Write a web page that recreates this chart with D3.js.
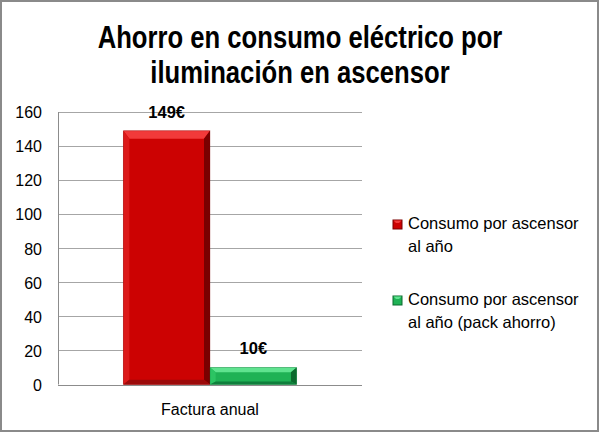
<!DOCTYPE html>
<html><head><meta charset="utf-8">
<script src="https://cdn.jsdelivr.net/npm/d3@7"></script>
<style>
html,body{margin:0;padding:0;background:#fff;}
svg{display:block;}
</style>
</head><body>
<svg id="chart" width="600" height="433"></svg>
<script>
const titleLines = ["Ahorro en consumo eléctrico por", "iluminación en ascensor"];
const categories = ["Factura anual"];
const seriesNames = ["Consumo por ascensor al año", "Consumo por ascensor al año (pack ahorro)"];
const legendLines = [["Consumo por ascensor", "al año"], ["Consumo por ascensor", "al año (pack ahorro)"]];
const seriesValues = [149, 10];
const valueLabels = ["149€", "10€"];
const yTicks = [0, 20, 40, 60, 80, 100, 120, 140, 160];

const palettes = [
  {main:"#cc0202", top:"#f23a3a", left:"#dc1a1a", right:"#7a0000", bottom:"#9c0a0a"},
  {main:"#1fb255", top:"#5fe38f", left:"#2cc463", right:"#0b6a2e", bottom:"#0f7f3c"}
];

const svg = d3.select("#chart");
const FONT = "'Liberation Sans', Arial, sans-serif";

svg.append("rect").attr("x",1).attr("y",1).attr("width",597).attr("height",430)
  .attr("fill","#fff").attr("stroke","#8a8a8a").attr("stroke-width",2);

// title (condensed horizontally to mimic Calibri proportions)
const tY = [48, 83];
const titleG = svg.append("g");
const tTexts = titleLines.map((t,i)=>titleG.append("text").attr("x",0).attr("y",tY[i]).attr("text-anchor","middle")
    .attr("font-family",FONT).attr("font-weight","bold").attr("font-size",31)
    .attr("fill","#000").text(t));
const w1 = tTexts[0].node().getComputedTextLength();
const k = 405 / w1;
titleG.attr("transform",`translate(300,0) scale(${k},1)`);

const plot = {left:58, right:362, top:112, bottom:384.5};
const y = d3.scaleLinear().domain([0,160]).range([plot.bottom, plot.top]);
const x0 = d3.scaleBand().domain(categories).range([plot.left, plot.right]).paddingInner(0.43).paddingOuter(0.215);
const x1 = d3.scaleBand().domain(seriesNames).range([0, x0.bandwidth()]);

// gridlines
svg.append("g").selectAll("line").data(yTicks).join("line")
  .attr("x1",plot.left).attr("x2",plot.right)
  .attr("y1",d=>Math.round(y(d))+0.5).attr("y2",d=>Math.round(y(d))+0.5)
  .attr("stroke",d=>d===0?"#8c8c8c":"#a6a6a6").attr("stroke-width",1);

// y axis
const yAxis = d3.axisLeft(y).tickValues(yTicks).tickSize(0).tickPadding(0);
const gy = svg.append("g").attr("transform",`translate(${plot.left},0)`).call(yAxis);
gy.select(".domain").attr("stroke","#8c8c8c").attr("d",`M0.5,${plot.top}V${plot.bottom}`);
gy.selectAll("text").attr("x",-16).attr("dy","0.36em")
  .attr("font-family",FONT).attr("font-size",16).attr("fill","#000");

// bars
const bars = svg.append("g");
categories.forEach(cat=>{
  seriesValues.forEach((v,i)=>{
    const bx = x0(cat) + x1(seriesNames[i]);
    const bw = x1.bandwidth();
    const by = y(v);
    const bh = y(0) - by;
    const p = palettes[i];
    const b = Math.min(8, bh/3.5);
    const s = Math.min(6, bh/3);
    const g = bars.append("g");
    g.append("rect").attr("x",bx).attr("y",by).attr("width",bw).attr("height",bh).attr("fill",p.main);
    const x2 = bx+bw, y2 = by+bh;
    g.append("polygon").attr("fill",p.top)
      .attr("points",[[bx,by],[x2,by],[x2-s,by+b],[bx+s,by+b]].join(" "));
    g.append("polygon").attr("fill",p.left)
      .attr("points",[[bx,by],[bx+s,by+b],[bx+s,y2-b*0.6],[bx,y2]].join(" "));
    g.append("polygon").attr("fill",p.right)
      .attr("points",[[x2,by],[x2,y2],[x2-s,y2-b*0.6],[x2-s,by+b]].join(" "));
    g.append("polygon").attr("fill",p.bottom)
      .attr("points",[[bx,y2],[bx+s,y2-b*0.6],[x2-s,y2-b*0.6],[x2,y2]].join(" "));
    g.append("rect").attr("x",bx).attr("y",by).attr("width",bw).attr("height",bh)
      .attr("fill","none").attr("stroke",p.right).attr("stroke-opacity",0.35).attr("stroke-width",0.8);
    svg.append("text").attr("x",bx+bw/2).attr("y",by-13).attr("text-anchor","middle")
      .attr("font-family",FONT).attr("font-weight","bold").attr("font-size",16.5).attr("fill","#000")
      .text(valueLabels[i]);
  });
});

// x axis label
svg.append("g").selectAll("text").data(categories).join("text")
  .attr("x",d=>x0(d)+x0.bandwidth()/2).attr("y",415).attr("text-anchor","middle")
  .attr("font-family",FONT).attr("font-size",16).attr("fill","#000").text(d=>d);

// legend
const legY = [229, 305];
seriesNames.forEach((n,i)=>{
  const p = palettes[i];
  const g = svg.append("g").attr("transform",`translate(393,${legY[i]-9})`);
  g.append("rect").attr("width",9).attr("height",9).attr("fill",p.main).attr("stroke",p.right).attr("stroke-width",1);
  g.append("polygon").attr("fill",p.top).attr("points","0.5,0.5 8.5,0.5 6,3 3,3");
  legendLines[i].forEach((t,j)=>{
    svg.append("text").attr("x",408).attr("y",legY[i]+j*23).attr("font-family",FONT)
      .attr("font-size",16.5).attr("fill","#000").text(t);
  });
});
</script>
</body></html>
